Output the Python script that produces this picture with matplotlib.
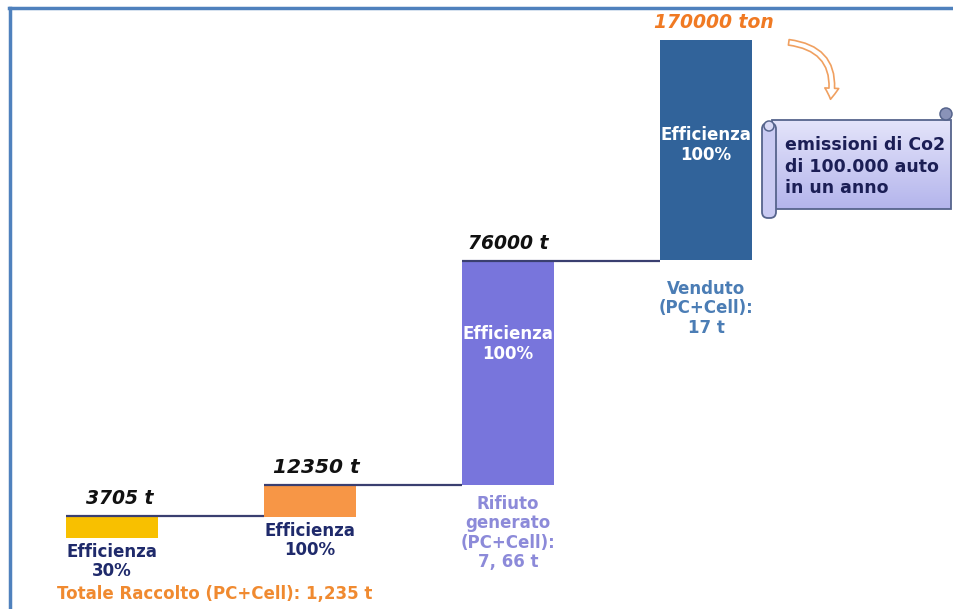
import numpy as np
import matplotlib.pyplot as plt
from matplotlib.colors import LinearSegmentedColormap
from matplotlib.patches import FancyArrowPatch, FancyBboxPatch, Rectangle, Circle
from matplotlib.lines import Line2D

# step chart data (bar heights are schematic)
steps = ["Raccolto", "Efficienza", "Rifiuto", "Venduto"]
bottoms = [0, 21, 53, 278]
tops = [22, 53, 277, 498]
value_labels = ["3705 t", "12350 t", "76000 t", "170000 ton"]
inner_labels = ["", "", "Efficienza\n100%", "Efficienza\n100%"]
under_labels = ["Efficienza\n30%", "Efficienza\n100%",
                "Rifiuto\ngenerato\n(PC+Cell):\n7, 66 t",
                "Venduto\n(PC+Cell):\n17 t"]
total_label = "Totale Raccolto (PC+Cell): 1,235 t"
note_text = "emissioni di Co2\ndi 100.000 auto\nin un anno"

bar_colors = ["#F8C000", "#F79646", "#7875DC", "#31639A"]
value_colors = ["#111111", "#111111", "#111111", "#F07A23"]
under_colors = ["#1F2A6B", "#1F2A6B", "#8C8AD9", "#4B7DB5"]
under_gap = [5, 5, 10, 20]
inner_y = [0, 0, 194, 393]
value_dx = [0.04, 0.03, 0.0, 0.04]
value_size = [13.5, 14.5, 13.5, 13.5]

W, H = 954, 609
fig = plt.figure(figsize=(W / 100, H / 100), dpi=100)
fig.patch.set_facecolor("white")

# main axes: x in category units, y in schematic units
ax = fig.add_axes([0, 0, 1, 1])
spacing = 198.0
ax.set_xlim(-112 / spacing, (W - 112) / spacing)
ax.set_ylim(-71, 538)
ax.axis("off")

x = np.arange(len(steps))
width = 0.46
heights = [t - b for t, b in zip(tops, bottoms)]
ax.bar(x, heights, bottom=bottoms, width=width, color=bar_colors,
       align="center", zorder=2)

# connectors from each bar's top to the next bar
for i in range(len(steps) - 1):
    ax.plot([x[i] - width / 2, x[i + 1] - width / 2], [tops[i], tops[i]],
            color="#3A3F70", lw=1.6, zorder=3, solid_capstyle="butt")

font = "DejaVu Sans"
for i in range(len(steps)):
    ax.text(x[i] + value_dx[i], tops[i] + 8, value_labels[i], ha="center",
            va="bottom", fontsize=value_size[i], fontweight="bold",
            fontstyle="italic", color=value_colors[i], family=font)
    ax.text(x[i], bottoms[i] - under_gap[i], under_labels[i], ha="center",
            va="top", fontsize=12, fontweight="bold", color=under_colors[i],
            family=font, linespacing=1.1)
    if inner_labels[i]:
        ax.text(x[i], inner_y[i], inner_labels[i], ha="center", va="center",
                fontsize=12, fontweight="bold", color="white",
                family=font, linespacing=1.1)

ax.text(x[0] - width / 2 - 0.05, -56, total_label, ha="left", va="center",
        fontsize=12, fontweight="bold", color="#F08A30", family=font)

# overlay axes in pixel coords for the decorations
ov = fig.add_axes([0, 0, 1, 1], zorder=5)
ov.axis("off")
ov.patch.set_alpha(0)

# frame
ov.add_line(Line2D([9, W], [8, 8], color="#4F81BD", lw=2.5))
ov.add_line(Line2D([10, 10], [8, H], color="#4F81BD", lw=2.5))

# curved arrow
arr = FancyArrowPatch((786, 42), (830, 102),
                      connectionstyle="arc3,rad=-0.55",
                      arrowstyle="simple,head_width=10,head_length=8,tail_width=4",
                      facecolor="white", edgecolor="#F0A060", lw=1.2)
ov.add_patch(arr)

# scroll banner
body_x0, body_x1, body_y0, body_y1 = 772, 951, 120, 209
grad = np.linspace(0, 1, 100).reshape(-1, 1)
img = ov.imshow(grad, extent=[body_x0, body_x1, body_y1, body_y0],
                origin="upper",
                cmap=LinearSegmentedColormap.from_list(
                    "scroll", ["#E4E4FA", "#B4B5EC"]),
                aspect="auto", zorder=1)
body = Rectangle((body_x0, body_y0), body_x1 - body_x0, body_y1 - body_y0,
                 facecolor="none", edgecolor="#56648C", lw=1.3, zorder=2)
ov.add_patch(body)
img.set_clip_path(body)
ov.set_xlim(0, W)
ov.set_ylim(H, 0)

roll = FancyBboxPatch((762, 123), 14, 95, boxstyle="round,pad=0,rounding_size=6",
                      facecolor="#C9CAF2", edgecolor="#56648C", lw=1.3, zorder=3)
ov.add_patch(roll)
ov.add_patch(Circle((769, 126), 5, facecolor="#D9DAF6", edgecolor="#56648C",
                    lw=1.1, zorder=4))
ov.add_patch(Circle((946, 114), 6, facecolor="#8A93B8", edgecolor="#56648C",
                    lw=1.1, zorder=3))

ov.text(785, 136, note_text, ha="left", va="top", fontsize=12.5,
        fontweight="bold", color="#1B1E55", family=font, linespacing=1.25,
        zorder=4)

fig.savefig("out.png", dpi=100)
